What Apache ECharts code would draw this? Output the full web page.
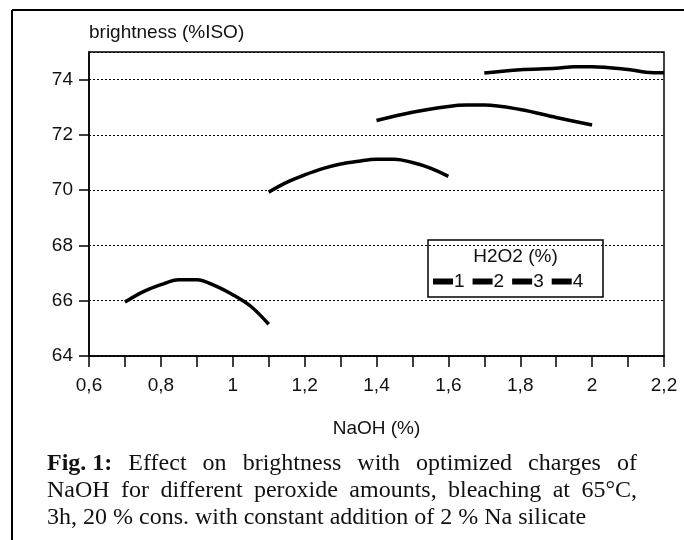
<!DOCTYPE html>
<html><head><meta charset="utf-8">
<script src="https://cdn.jsdelivr.net/npm/echarts@6/dist/echarts.min.js"></script>
<style>html,body{margin:0;padding:0;background:#fff}#c{width:684px;height:540px}</style>
</head><body><div id="c"></div>
<script>
// NaOH charge (%) and brightness (%ISO) for each H2O2 level
const naoh1 = [0.7, 0.75, 0.8, 0.85, 0.9, 0.95, 1.0, 1.05, 1.1];
const bright1 = [65.95, 66.32, 66.58, 66.76, 66.76, 66.55, 66.22, 65.8, 65.15];
const naoh2 = [1.1, 1.15, 1.2, 1.25, 1.3, 1.35, 1.4, 1.45, 1.5, 1.55, 1.6];
const bright2 = [69.93, 70.28, 70.55, 70.78, 70.95, 71.05, 71.12, 71.12, 71.0, 70.8, 70.5];
const naoh3 = [1.4, 1.5, 1.6, 1.65, 1.7, 1.8, 1.9, 2.0];
const bright3 = [72.52, 72.82, 73.03, 73.08, 73.08, 72.92, 72.63, 72.36];
const naoh4 = [1.7, 1.8, 1.9, 1.95, 2.0, 2.1, 2.15, 2.2];
const bright4 = [74.24, 74.36, 74.41, 74.47, 74.47, 74.37, 74.27, 74.25];
const seriesNames = ['1', '2', '3', '4'];
const legendTitle = 'H2O2 (%)';
const xName = 'NaOH (%)';
const yName = 'brightness (%ISO)';
const captionLines = [
  [['Fig. 1:', true], ['Effect', false], ['on', false], ['brightness', false], ['with', false], ['optimized', false], ['charges', false], ['of', false]],
  [['NaOH', false], ['for', false], ['different', false], ['peroxide', false], ['amounts,', false], ['bleaching', false], ['at', false], ['65°C,', false]],
  [['3h, 20 % cons. with constant addition of 2 % Na silicate', false]]
];

const xs = [naoh1, naoh2, naoh3, naoh4];
const ys = [bright1, bright2, bright3, bright4];
const pairs = (a, b) => a.map((v, i) => [v, b[i]]);

const SANS = '"Liberation Sans", Arial, sans-serif';
const SERIF = '"Liberation Serif", "Times New Roman", serif';

// caption layout (justified lines)
const capLeft = 47, capRight = 637, capSize = 24;
const mc = document.createElement('canvas').getContext('2d');
const capFont = (b) => (b ? 'bold ' : '') + capSize + 'px ' + SERIF;
const capY = [464, 491, 518];
const captionGraphics = [];
captionLines.forEach((words, li) => {
  const widths = words.map(w => { mc.font = capFont(w[1]); return mc.measureText(w[0]).width; });
  const total = widths.reduce((s, v) => s + v, 0);
  const justify = li < captionLines.length - 1 && words.length > 1;
  const gap = justify ? (capRight - capLeft - total) / (words.length - 1) : 0;
  let x = capLeft;
  words.forEach((w, i) => {
    captionGraphics.push({
      type: 'text', x: x, y: capY[li],
      style: { text: w[0], font: capFont(w[1]), fill: '#111', textVerticalAlign: 'middle', textAlign: 'left' }
    });
    x += widths[i] + gap;
  });
});

const chart = echarts.init(document.getElementById('c'), null, { renderer: 'canvas' });
const fmt = v => String(Math.round(v * 10) / 10).replace('.', ',');

chart.setOption({
  animation: false,
  backgroundColor: '#fff',
  grid: { left: 89, right: 20, top: 52, bottom: 184, show: true, borderColor: '#000', borderWidth: 1.5, backgroundColor: 'transparent' },
  xAxis: {
    type: 'value', min: 0.6, max: 2.2, interval: 0.2,
    name: xName, nameLocation: 'middle', nameGap: 63,
    nameTextStyle: { fontFamily: SANS, fontSize: 19, color: '#111' },
    axisLine: { show: true, lineStyle: { color: '#000', width: 1.5 } },
    axisTick: { show: true, length: 11, lineStyle: { color: '#000', width: 1.5 } },
    minorTick: { show: true, splitNumber: 2, length: 11, lineStyle: { color: '#000', width: 1.5 } },
    axisLabel: { fontFamily: SANS, fontSize: 19, color: '#111', margin: 20, formatter: fmt },
    splitLine: { show: false }
  },
  yAxis: {
    type: 'value', min: 64, max: 75, interval: 2,
    name: yName, nameLocation: 'end', nameGap: 19,
    nameTextStyle: { fontFamily: SANS, fontSize: 19, color: '#111', align: 'left', verticalAlign: 'middle' },
    axisLine: { show: true, lineStyle: { color: '#000', width: 1.5 } },
    axisTick: { show: true, length: 10, lineStyle: { color: '#000', width: 1.5 } },
    axisLabel: { fontFamily: SANS, fontSize: 19, color: '#111', margin: 16, showMaxLabel: false,
      formatter: v => (v > 74.5 ? '' : String(v)) },
    splitLine: { show: true, lineStyle: { color: '#000', width: 1, type: [2, 2] } }
  },
  legend: {
    data: seriesNames, left: 433, top: 272, padding: 0, itemGap: 8,
    itemWidth: 20, itemHeight: 6, icon: 'rect',
    textStyle: { fontFamily: SANS, fontSize: 19, color: '#111', padding: [0, 0, 0, -4] }
  },
  series: seriesNames.map((n, i) => ({
    name: n, type: 'line', data: pairs(xs[i], ys[i]), smooth: 0.35,
    showSymbol: false, symbol: 'none', color: '#000',
    lineStyle: { color: '#000', width: 3.5 }
  })),
  graphic: [
    { type: 'rect', z: 0, shape: { x: 428, y: 240, width: 175, height: 57 },
      style: { fill: '#fff', stroke: '#000', lineWidth: 1.5 } },
    { type: 'text', z: 1, x: 515.5, y: 257,
      style: { text: legendTitle, font: '19px ' + SANS, fill: '#111', textAlign: 'center', textVerticalAlign: 'middle' } },
    { type: 'line', shape: { x1: 12, y1: 10, x2: 684, y2: 10 }, style: { stroke: '#000', lineWidth: 2 } },
    { type: 'line', shape: { x1: 12, y1: 10, x2: 12, y2: 540 }, style: { stroke: '#000', lineWidth: 2 } }
  ].concat(captionGraphics)
});
</script></body></html>
